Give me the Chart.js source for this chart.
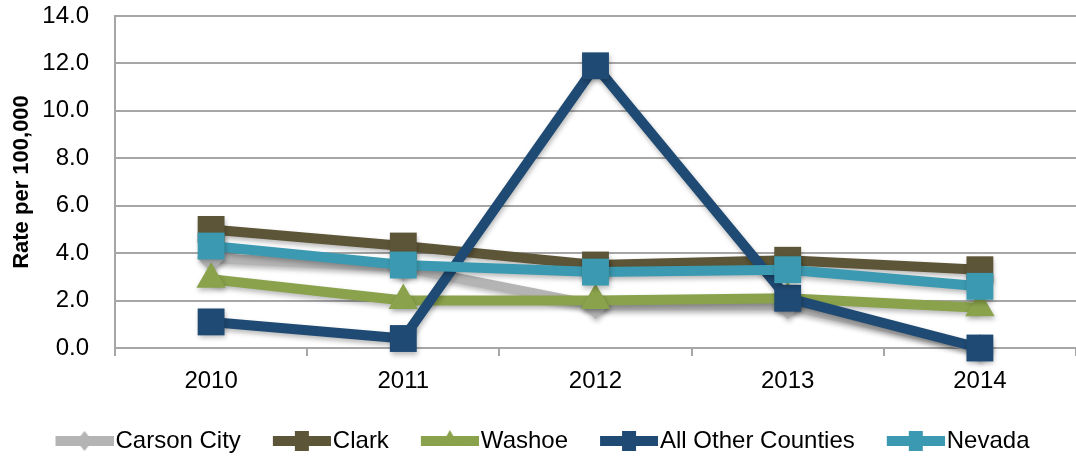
<!DOCTYPE html>
<html>
<head>
<meta charset="utf-8">
<script src="https://cdn.jsdelivr.net/npm/chart.js@4"></script>
<style>
  html, body { margin: 0; padding: 0; background: #ffffff; }
  #wrap { width: 1076px; height: 459px; position: relative; }
</style>
</head>
<body>
<div id="wrap"><canvas id="c" width="1076" height="459"></canvas></div>
<script>
const years = ['2010', '2011', '2012', '2013', '2014'];
const carsonCity = [3.8, 3.4, 1.8, 1.8, 0.0];
const clark = [5.0, 4.3, 3.5, 3.7, 3.3];
const washoe = [2.9, 2.0, 2.0, 2.1, 1.7];
const allOtherCounties = [1.1, 0.4, 11.9, 2.1, 0.0];
const nevada = [4.3, 3.5, 3.2, 3.3, 2.6];
const yTicks = [0, 2, 4, 6, 8, 10, 12, 14];

const FONT = '"Liberation Sans", Arial, sans-serif';

// legend icon: transparent left margin so the visible marker sits just before the text
function legendIcon(color, shape) {
  const c = document.createElement('canvas');
  c.width = 77; c.height = 22;
  const g = c.getContext('2d');
  const x0 = 19, w = 58;
  g.fillStyle = color;
  g.fillRect(x0, 6, w, 10);
  const cx = x0 + w / 2, cy = 11;
  g.beginPath();
  if (shape === 'rectRot') {
    g.moveTo(cx, cy - 10); g.lineTo(cx + 8, cy); g.lineTo(cx, cy + 10); g.lineTo(cx - 8, cy);
  } else if (shape === 'triangle') {
    g.moveTo(cx, cy - 11); g.lineTo(cx + 9, cy + 5); g.lineTo(cx - 9, cy + 5);
  } else {
    g.rect(cx - 7, cy - 10, 14, 20);
  }
  g.closePath();
  g.fill();
  return c;
}

const series = [
  { label: 'Carson City', data: carsonCity, color: '#b4b4b4', shape: 'rectRot', r: 14, order: 5 },
  { label: 'Clark', data: clark, color: '#5d5537', shape: 'rect', r: 19, order: 4 },
  { label: 'Washoe', data: washoe, color: '#8aa24b', shape: 'triangle', r: 17, order: 3 },
  { label: 'All Other Counties', data: allOtherCounties, color: '#1f4a73', shape: 'rect', r: 19, order: 2 },
  { label: 'Nevada', data: nevada, color: '#3b9ab1', shape: 'rect', r: 19, order: 1 }
];

const icons = series.map(s => legendIcon(s.color, s.shape));

const shadowPlugin = {
  id: 'shadow',
  beforeDatasetsDraw(chart) {
    const ctx = chart.ctx;
    ctx.save();
    ctx.shadowColor = 'rgba(0,0,0,0.28)';
    ctx.shadowBlur = 5;
    ctx.shadowOffsetX = 1;
    ctx.shadowOffsetY = 3;
  },
  afterDatasetsDraw(chart) {
    chart.ctx.restore();
  }
};

new Chart(document.getElementById('c'), {
  type: 'line',
  data: {
    labels: years,
    datasets: series.map(s => ({
      label: s.label,
      data: s.data,
      order: s.order,
      borderColor: s.color,
      backgroundColor: s.color,
      borderWidth: 10,
      pointStyle: s.shape,
      pointRadius: s.r,
      pointHoverRadius: s.r,
      pointBorderWidth: 0,
      pointBackgroundColor: s.color,
      fill: false,
      tension: 0,
      borderJoinStyle: 'round',
      clip: false
    }))
  },
  options: {
    responsive: false,
    animation: false,
    events: [],
    layout: { autoPadding: false, padding: { left: 0, right: 0, top: 16, bottom: -4 } },
    plugins: {
      tooltip: { enabled: false },
      legend: {
        position: 'bottom',
        labels: {
          usePointStyle: true,
          pointStyleWidth: 57,
          padding: 23,
          color: '#000000',
          font: { family: FONT, size: 24 },
          sort: (a, b) => a.datasetIndex - b.datasetIndex,
          generateLabels(chart) {
            return chart.data.datasets.map((ds, i) => ({
              text: ds.label,
              fillStyle: ds.borderColor,
              strokeStyle: ds.borderColor,
              lineWidth: 0,
              pointStyle: icons[i],
              hidden: false,
              datasetIndex: i,
              fontColor: '#000000'
            }));
          }
        }
      }
    },
    scales: {
      x: {
        offset: true,
        afterFit(scale) {
          scale.paddingLeft = 0;
          scale.paddingRight = 0;
          scale.height = 58;
        },
        grid: {
          offset: true,
          drawOnChartArea: false,
          drawTicks: true,
          tickLength: 8,
          color: '#a6a6a6',
          lineWidth: 2
        },
        border: { display: false },
        ticks: {
          color: '#000000',
          padding: 11,
          font: { family: FONT, size: 24 }
        }
      },
      y: {
        min: 0,
        max: 14,
        afterBuildTicks(scale) {
          scale.ticks = yTicks.map(v => ({ value: v }));
        },
        afterFit(scale) {
          scale.width = 115;
          scale.paddingTop = 0;
          scale.paddingBottom = 0;
        },
        grid: {
          color: '#a6a6a6',
          lineWidth: 2,
          drawTicks: false
        },
        border: { display: true, color: '#a6a6a6', width: 2 },
        ticks: {
          color: '#000000',
          padding: 26,
          font: { family: FONT, size: 24 },
          callback: v => Number(v).toFixed(1)
        },
        title: {
          display: true,
          text: 'Rate per 100,000',
          color: '#000000',
          padding: { top: 9, bottom: 0 },
          font: { family: FONT, size: 22, weight: 'bold' }
        }
      }
    }
  },
  plugins: [shadowPlugin]
});
</script>
</body>
</html>
